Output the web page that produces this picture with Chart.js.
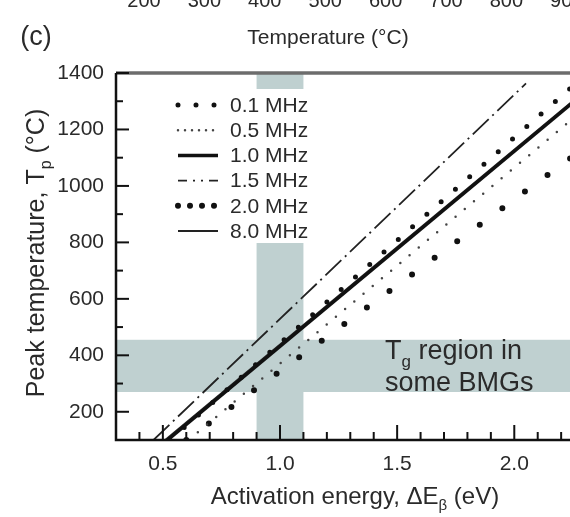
<!DOCTYPE html>
<html>
<head>
<meta charset="utf-8">
<script src="https://cdn.jsdelivr.net/npm/chart.js@4.4.1/dist/chart.umd.min.js"></script>
<style>
  html, body { margin: 0; padding: 0; overflow: hidden; background: #fff; }
</style>
</head>
<body>
<canvas id="myChart" width="620" height="517"></canvas>
<script>
// frequencies shown in the legend
const freqLabels = ['0.1 MHz', '0.5 MHz', '1.0 MHz', '1.5 MHz', '2.0 MHz', '8.0 MHz']

// activation energy (eV) and peak temperature (C)
const energy01 = [0.53, 2.30]
const temp01 = [100, 1390]
const energy05 = [0.61, 2.30]
const temp05 = [100, 1273]
const energy10 = [0.52, 2.30]
const temp10 = [100, 1330]
const energy15 = [0.46, 2.05]
const temp15 = [100, 1363]
const energy20 = [0.60, 2.30]
const temp20 = [100, 1135]
const energy80 = [0.51, 2.30]
const temp80 = [100, 1336]

// shaded regions
const energyBand = [0.9, 1.1]
const tgBand = [270, 455]

// x axis of the panel above (cut off at the top)
const topTicks = ['200', '300', '400', '500', '600', '700', '800', '900']

const FONT = "'Liberation Sans', Arial, sans-serif"
const INK = '#2a2a2a'

function toPoints(xs, ys) {
  return xs.map((x, i) => ({ x: x, y: ys[i] }))
}

// text with a subscript part
function drawRich(ctx, parts, x, y, size, align) {
  let total = 0
  parts.forEach(p => {
    ctx.font = (p.sub ? Math.round(size * 0.62) : size) + 'px ' + FONT
    p.w = ctx.measureText(p.t).width
    total += p.w
  })
  let cx = align === 'center' ? x - total / 2 : x
  parts.forEach(p => {
    ctx.font = (p.sub ? Math.round(size * 0.62) : size) + 'px ' + FONT
    ctx.textAlign = 'left'
    ctx.textBaseline = 'middle'
    ctx.fillText(p.t, cx, p.sub ? y + size * 0.38 : y)
    cx += p.w
  })
}

const bandsPlugin = {
  id: 'bands',
  beforeDatasetsDraw(chart) {
    const { ctx, chartArea, scales } = chart
    ctx.save()
    ctx.fillStyle = '#bfd0d0'
    const xa = scales.x.getPixelForValue(energyBand[0])
    const xb = scales.x.getPixelForValue(energyBand[1])
    ctx.fillRect(xa, chartArea.top, xb - xa, chartArea.bottom - chartArea.top)
    const ya = scales.y.getPixelForValue(tgBand[1])
    const yb = scales.y.getPixelForValue(tgBand[0])
    ctx.fillRect(chartArea.left, ya, chartArea.right - chartArea.left, yb - ya)
    ctx.restore()
  }
}

const overlayPlugin = {
  id: 'overlay',
  afterDatasetsDraw(chart) {
    const { ctx } = chart
    ctx.save()
    ctx.fillStyle = INK

    // Tg label
    drawRich(ctx, [{ t: 'T' }, { t: 'g', sub: true }, { t: ' region in' }], 385, 352, 27, 'left')
    drawRich(ctx, [{ t: 'some BMGs' }], 385, 384, 27, 'left')

    // legend
    ctx.fillStyle = '#fff'
    ctx.fillRect(165, 89, 152, 154)
    chart.data.datasets.forEach((ds, i) => {
      const y = 105 + i * 25.2
      ctx.save()
      ctx.strokeStyle = ds.borderColor
      ctx.lineWidth = ds.borderWidth
      ctx.lineCap = ds.borderCapStyle || 'butt'
      ctx.setLineDash(ds.legendDash || ds.borderDash || [])
      ctx.beginPath()
      ctx.moveTo(178, y)
      ctx.lineTo(218, y)
      ctx.stroke()
      ctx.restore()
      ctx.fillStyle = INK
      ctx.font = '21px ' + FONT
      ctx.textAlign = 'left'
      ctx.textBaseline = 'middle'
      ctx.fillText(ds.label, 230, y + 1)
    })
    ctx.restore()
  },
  afterDraw(chart) {
    const { ctx, chartArea, scales } = chart
    ctx.save()

    // frame
    ctx.strokeStyle = '#6c6c6c'
    ctx.lineWidth = 3.5
    ctx.beginPath()
    ctx.moveTo(chartArea.left, chartArea.top)
    ctx.lineTo(chartArea.right, chartArea.top)
    ctx.stroke()
    ctx.strokeStyle = '#111'
    ctx.lineWidth = 2.5
    ctx.beginPath()
    ctx.moveTo(chartArea.left, chartArea.top)
    ctx.lineTo(chartArea.left, chartArea.bottom)
    ctx.lineTo(chartArea.right, chartArea.bottom)
    ctx.stroke()

    // inward ticks
    ctx.lineWidth = 2
    scales.x.ticks.forEach(t => {
      const px = scales.x.getPixelForValue(t.value)
      const major = Math.round(t.value * 10) % 5 === 0
      ctx.beginPath()
      ctx.moveTo(px, chartArea.bottom)
      ctx.lineTo(px, chartArea.bottom - (major ? 15 : 8))
      ctx.stroke()
    })
    scales.y.ticks.forEach(t => {
      const py = scales.y.getPixelForValue(t.value)
      const major = Math.round(t.value) % 200 === 0
      ctx.beginPath()
      ctx.moveTo(chartArea.left, py)
      ctx.lineTo(chartArea.left + (major ? 13 : 7), py)
      ctx.stroke()
    })

    // axis titles
    ctx.fillStyle = INK
    drawRich(ctx, [{ t: 'Activation energy, \u0394E' }, { t: '\u03b2', sub: true }, { t: ' (eV)' }], 355, 497, 24, 'center')
    ctx.save()
    ctx.translate(37, 253)
    ctx.rotate(-Math.PI / 2)
    drawRich(ctx, [{ t: 'Peak temperature, T' }, { t: 'p', sub: true }, { t: ' (\u00b0C)' }], 0, 0, 25, 'center')
    ctx.restore()

    // panel label and the cut-off axis of the panel above
    ctx.font = '27px ' + FONT
    ctx.textAlign = 'center'
    ctx.textBaseline = 'middle'
    ctx.fillText('(c)', 36, 38)
    ctx.font = '21px ' + FONT
    ctx.fillText('Temperature (\u00b0C)', 328, 38)
    ctx.font = '20px ' + FONT
    ctx.textBaseline = 'alphabetic'
    topTicks.forEach((lab, i) => {
      ctx.fillText(lab, 144 + i * 60.4, 7)
    })
    ctx.restore()
  }
}

Chart.defaults.font.family = FONT
Chart.defaults.color = INK

const ctx = document.getElementById('myChart')

new Chart(ctx, {
  type: 'line',
  plugins: [bandsPlugin, overlayPlugin],
  data: {
    datasets: [
      {
        label: freqLabels[0],
        data: toPoints(energy01, temp01),
        borderColor: '#111',
        borderWidth: 5,
        borderCapStyle: 'round',
        borderDash: [0, 19],
        legendDash: [0, 18]
      },
      {
        label: freqLabels[1],
        data: toPoints(energy05, temp05),
        borderColor: '#444',
        borderWidth: 2.5,
        borderCapStyle: 'round',
        borderDash: [0, 12],
        legendDash: [0, 7]
      },
      {
        label: freqLabels[2],
        data: toPoints(energy10, temp10),
        borderColor: '#111',
        borderWidth: 3.5
      },
      {
        label: freqLabels[3],
        data: toPoints(energy15, temp15),
        borderColor: '#222',
        borderWidth: 1.8,
        borderDash: [22, 5, 2, 5],
        legendDash: [9, 6, 2, 6, 2, 6]
      },
      {
        label: freqLabels[4],
        data: toPoints(energy20, temp20),
        borderColor: '#111',
        borderWidth: 6,
        borderCapStyle: 'round',
        borderDash: [0, 28],
        legendDash: [0, 12]
      },
      {
        label: freqLabels[5],
        data: toPoints(energy80, temp80),
        borderColor: '#222',
        borderWidth: 1.8
      }
    ]
  },
  options: {
    responsive: false,
    animation: false,
    layout: { padding: { left: 0, top: 73, right: 0, bottom: 0 } },
    elements: { point: { radius: 0 }, line: { tension: 0 } },
    plugins: { legend: { display: false }, tooltip: { enabled: false } },
    scales: {
      x: {
        type: 'linear',
        min: 0.3,
        max: 2.4,
        grid: { display: false, drawTicks: false },
        border: { display: false },
        afterFit(scale) { scale.height = 77 },
        ticks: {
          stepSize: 0.1,
          autoSkip: false,
          maxRotation: 0,
          padding: 12,
          font: { size: 21 },
          callback(v) {
            const r = Math.round(v * 10)
            return r % 5 === 0 ? (r / 10).toFixed(1) : ''
          }
        }
      },
      y: {
        min: 100,
        max: 1400,
        grid: { display: false, drawTicks: false },
        border: { display: false },
        afterFit(scale) { scale.width = 116 },
        ticks: {
          stepSize: 100,
          autoSkip: false,
          padding: 12,
          font: { size: 21 },
          callback(v) {
            return Math.round(v) % 200 === 0 ? v : ''
          }
        }
      }
    }
  }
})
</script>
</body>
</html>
